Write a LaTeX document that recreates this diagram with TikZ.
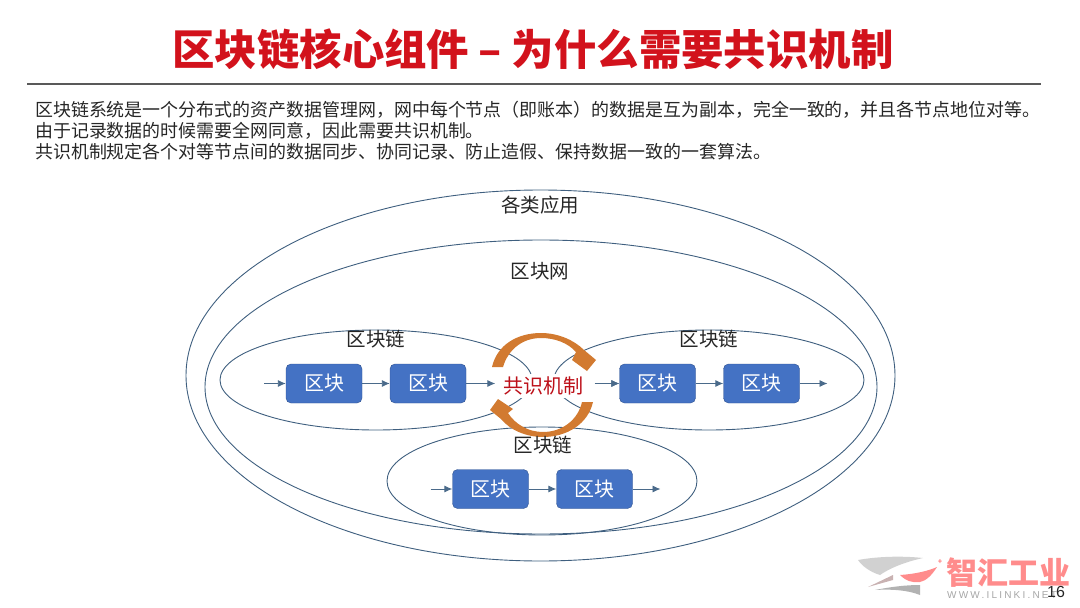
\documentclass[tikz,border=0pt]{standalone}
\usepackage{fontspec}
\setmainfont{Noto Sans CJK SC}
\newfontfamily\wwwfont[LetterSpace=22]{Liberation Sans}
\newfontfamily\pagefont{Liberation Sans}
\usetikzlibrary{shapes.geometric,arrows.meta}
\definecolor{blockblue}{HTML}{4472C4}
\definecolor{blockedge}{HTML}{2F528F}
\definecolor{ringline}{HTML}{3F5F7F}
\definecolor{linkline}{HTML}{4A6A8A}
\definecolor{titlered}{HTML}{D2121C}
\definecolor{swirl}{HTML}{D27A30}
\tikzset{
  ring/.style={draw=ringline, line width=0.9pt, ellipse, inner sep=0pt},
  block/.style={draw=blockedge, fill=blockblue, rounded corners=5pt, minimum width=76pt,
    minimum height=39pt, text=white, font=\fontsize{20}{20}\selectfont, inner sep=0pt},
  link/.style={draw=linkline, line width=0.9pt, -{Latex[length=8pt,width=7pt]}},
  ringlabel/.style={font=\fontsize{19.5}{20}\selectfont, text=black!85, inner sep=0pt},
}
% two blocks and the three links of one chain
\newcommand{\blockpair}[3]{
  \node [block] (#1a) at (#2,#3) {区块};
  \node [block] (#1b) at (#2+104,#3) {区块};
  \coordinate (#1in) at (#2-60,#3);
  \coordinate (#1out) at (#2+104+66,#3);
  \draw [link] (#1in) -- (#1a);
  \draw [link] (#1a) -- (#1b);
}
\begin{document}
\begin{tikzpicture}[x=1pt,y=-1pt]
\useasboundingbox (0,0) rectangle (1080,608);
\node [font=\fontsize{42.4}{46}\bfseries\selectfont, text=titlered, inner sep=0pt] (title) at (533,49) {区块链核心组件 – 为什么需要共识机制};
\coordinate (ruleleft) at (27,84);
\coordinate (ruleright) at (1041,84);
\draw [line width=1.8pt, draw=black!65] (ruleleft) -- (ruleright);
\node [anchor=north west, align=left, inner sep=0pt, text=black!85, font=\fontsize{17.95}{21}\selectfont] (intro) at (35,101)
  {区块链系统是一个分布式的资产数据管理网，网中每个节点（即账本）的数据是互为副本，完全一致的，并且各节点地位对等。\\
   由于记录数据的时候需要全网同意，因此需要共识机制。\\
   共识机制规定各个对等节点间的数据同步、协同记录、防止造假、保持数据一致的一套算法。};

\node [ring, minimum width=709pt, minimum height=371pt] (apps) at (540.5,375.5) {};
\node [ring, minimum width=672pt, minimum height=294pt] (net) at (541,387) {};
\node [ring, minimum width=312pt, minimum height=100pt] (leftchain) at (376,380) {};
\node [ring, minimum width=310pt, minimum height=100pt] (rightchain) at (709,380) {};
\node [ring, minimum width=310pt, minimum height=108pt] (lowchain) at (542,481) {};

\node [ringlabel] (appslabel) at (540,205) {各类应用};
\node [ringlabel] (netlabel) at (540,271) {区块网};
\node [ringlabel] (leftlabel) at (376,339) {区块链};
\node [ringlabel] (rightlabel) at (709,339) {区块链};

\blockpair{l}{324}{383.5}
\blockpair{r}{657.5}{383.5}
\blockpair{d}{490.5}{489}

\node [fill=white, inner sep=1pt, minimum width=84pt, minimum height=24pt, text=titlered!90!black, font=\fontsize{20}{20}\selectfont] (consensus) at (543.5,386) {共识机制};
\draw [link, shorten >=6pt] (lb) -- (lb -| consensus.west);
\draw [link, shorten <=9pt] (ra -| consensus.east) -- (ra);
\draw [link] (rb) -- (rout);
\draw [link] (db) -- (dout);

% the two round arrows
\fill [swirl] (492,367) .. controls (497,345) and (517,333) .. (541,333)
  .. controls (558,333) and (574,340) .. (584,350) -- (596,360) -- (587,371) -- (572,360) -- (576,352)
  .. controls (568,343) and (555,338) .. (541,338)
  .. controls (522,338) and (508,350) .. (503,367) -- cycle;
\fill [swirl] (593,402) .. controls (588,424) and (567,437) .. (543,437)
  .. controls (526,437) and (510,430) .. (501,419) -- (490,410) -- (498,399) -- (513,409) -- (508,413)
  .. controls (515,424) and (528,432) .. (543,432)
  .. controls (562,432) and (578,420) .. (582,402) -- cycle;
\node [ringlabel] (lowlabel) at (543,445) {区块链};

% logo at the lower right
\fill [black!18] (858,560) .. controls (880,556) and (905,556) .. (923,558) .. controls (905,562) and (890,568) .. (880,575) .. controls (870,572) and (862,566) .. (858,560) -- cycle;
\fill [red!45!white] (900,575) .. controls (915,574) and (928,571) .. (937,567) .. controls (932,575) and (926,581) .. (920,582) .. controls (912,583) and (906,581) .. (900,575) -- cycle;
\fill [red!30!black!30] (868,587) -- (893,575) -- (893,580) -- cycle;
\fill [black!30] (875,590) .. controls (890,587) and (905,585) .. (920,585) -- (920,595) .. controls (908,590) and (890,589) .. (875,590) -- cycle;
\node [inner sep=0pt, text=red!75, font=\fontsize{8}{8}\selectfont] (logostar) at (940,562) {+};
\node [anchor=west, inner sep=0pt, text=red!45!white, font=\fontsize{31}{31}\bfseries\selectfont] (logoname) at (946,573) {智汇工业};
\node [anchor=west, inner sep=0pt, text=black!35, font=\wwwfont\fontsize{10}{11}\selectfont] (logourl) at (947,595) {WWW.ILINKI.NET};
\node [inner sep=0pt, text=black!85, font=\pagefont\fontsize{16}{16}\selectfont] (pagenum) at (1056,592) {16};
\end{tikzpicture}
\end{document}
